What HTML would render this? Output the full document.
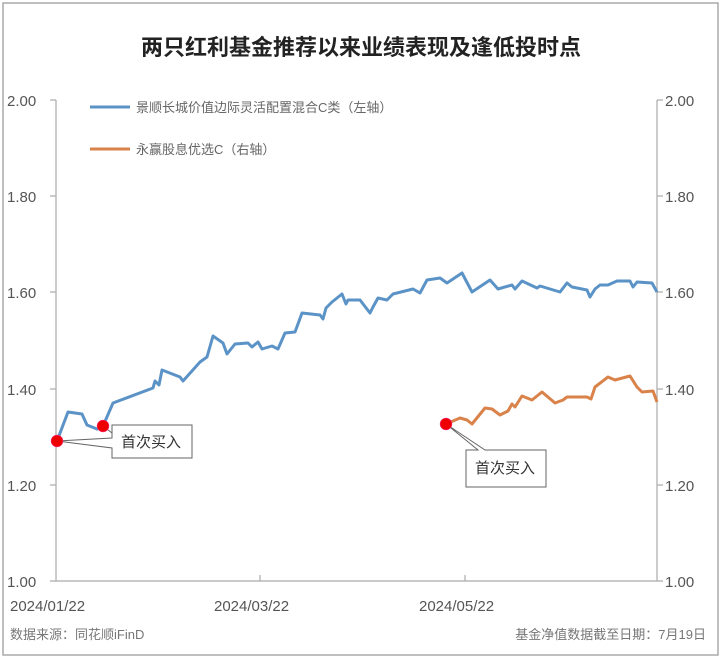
<!DOCTYPE html>
<html><head><meta charset="utf-8"><style>
html,body{margin:0;padding:0;background:#fff;}
svg{display:block;}
text{font-family:"Liberation Sans","Noto Sans CJK SC",sans-serif;}
</style></head><body>
<svg width="723" height="660" viewBox="0 0 723 660" xmlns="http://www.w3.org/2000/svg">
<rect x="3" y="3" width="715" height="652" fill="#fff" stroke="#aaa" stroke-width="1.5"/>
<text x="361" y="55" text-anchor="middle" font-size="22" font-weight="bold" fill="#222">两只红利基金推荐以来业绩表现及逢低投时点</text>
<g stroke="#aaa" stroke-width="1.2" fill="none">
<line x1="56" y1="100" x2="56" y2="581"/>
<line x1="657" y1="100" x2="657" y2="581"/>
<line x1="50" y1="581" x2="663" y2="581"/>
<line x1="50" y1="100" x2="56" y2="100"/><line x1="50" y1="196" x2="56" y2="196"/><line x1="50" y1="292" x2="56" y2="292"/><line x1="50" y1="389" x2="56" y2="389"/><line x1="50" y1="485" x2="56" y2="485"/>
<line x1="657" y1="100" x2="663" y2="100"/><line x1="657" y1="196" x2="663" y2="196"/><line x1="657" y1="292" x2="663" y2="292"/><line x1="657" y1="389" x2="663" y2="389"/><line x1="657" y1="485" x2="663" y2="485"/>
<line x1="260" y1="575" x2="260" y2="581"/><line x1="465" y1="575" x2="465" y2="581"/>
</g>
<g font-size="15" fill="#555">
<text x="7" y="106">2.00</text><text x="7" y="202">1.80</text><text x="7" y="298">1.60</text><text x="7" y="395">1.40</text><text x="7" y="491">1.20</text><text x="7" y="587">1.00</text>
<text x="665" y="106">2.00</text><text x="665" y="202">1.80</text><text x="665" y="298">1.60</text><text x="665" y="395">1.40</text><text x="665" y="491">1.20</text><text x="665" y="587">1.00</text>
<text x="10" y="611">2024/01/22</text><text x="214" y="611">2024/03/22</text><text x="419" y="611">2024/05/22</text>
</g>
<g font-size="13" fill="#777">
<text x="10" y="639">数据来源：同花顺iFinD</text>
<text x="706" y="639" text-anchor="end">基金净值数据截至日期：7月19日</text>
</g>
<line x1="90" y1="107" x2="130" y2="107" stroke="#5b93c7" stroke-width="3"/>
<text x="136" y="112" font-size="13" fill="#666">景顺长城价值边际灵活配置混合C类（左轴）</text>
<line x1="90" y1="149" x2="130" y2="149" stroke="#d9824a" stroke-width="3"/>
<text x="136" y="154" font-size="13" fill="#666">永赢股息优选C（右轴）</text>
<polyline fill="none" stroke="#5b93c7" stroke-width="3" stroke-linejoin="round" points="57,441 68,412 82,414 87,425 97,429 103,426 113,403 153,388 155,381 159,385 162,370 180,377 183,381 200,362 207,357 213,336 223,343 227,354 235,344 248,343 252,347 258,342 262,349 272,346 278,349 285,333 295,332 302,313 320,315 323,319 326,308 332,302 342,294 346,304 348,300 360,300 370,313 373,307 378,298 387,300 393,294 413,289 420,293 427,280 440,278 447,283 462,273 472,292 490,280 498,289 512,285 515,289 522,281 537,288 540,286 560,292 567,283 572,287 587,290 590,297 595,289 600,285 608,285 617,281 630,281 633,287 637,282 652,283 657,292"/>
<polyline fill="none" stroke="#d9824a" stroke-width="3" stroke-linejoin="round" points="446,424 453,421 460,418 467,420 472,424 485,408 492,409 500,415 508,411 512,404 515,407 522,396 532,400 542,392 555,403 563,400 567,397 587,397 591,399 595,387 608,377 615,380 630,376 637,387 642,392 653,391 657,402"/>
<g stroke="#666" stroke-width="1" fill="#fff">
<polyline points="57,441 112,438 112,425 192,425 192,458 112,458 112,448 57,441"/>
<polyline points="103,426 112,433" fill="none"/>
<polyline points="446,424 478,450 466,450 466,487 546,487 546,450 485,450 446,424"/>
</g>
<g font-size="15" fill="#333"><text x="121" y="447">首次买入</text><text x="475" y="473">首次买入</text></g>
<g fill="#e00" stroke="#f3a" stroke-width="0.5"><circle cx="57" cy="441" r="6"/><circle cx="103" cy="426" r="6"/><circle cx="446" cy="424" r="6"/></g>
</svg>
</body></html>
